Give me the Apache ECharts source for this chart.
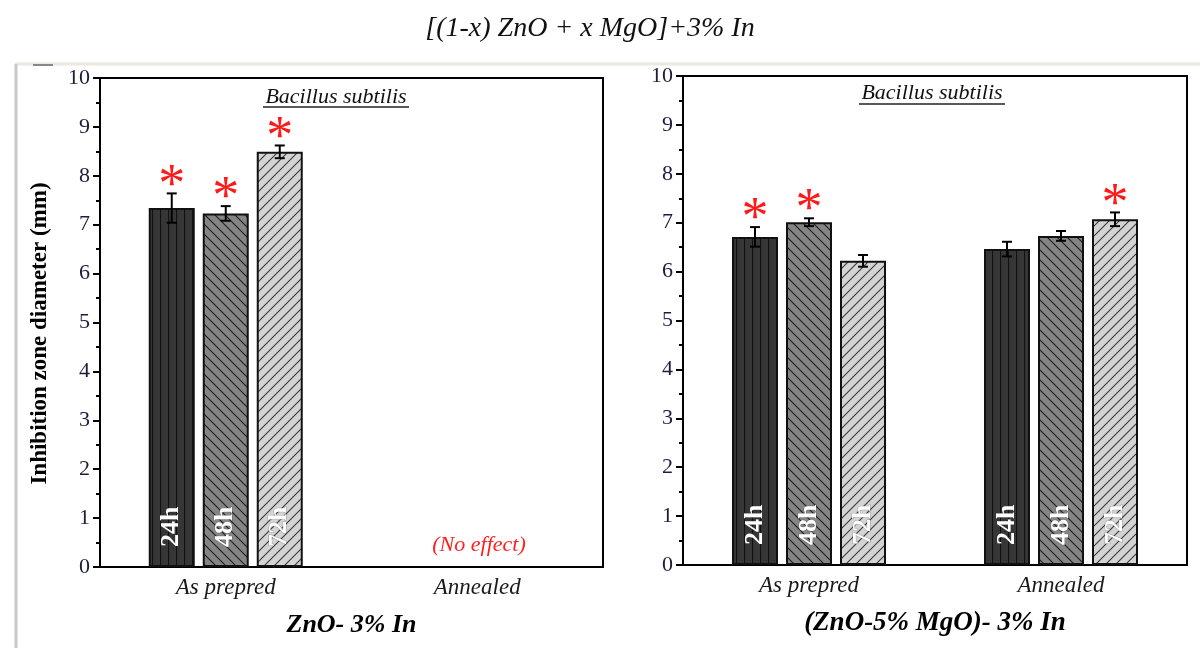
<!DOCTYPE html>
<html>
<head>
<meta charset="utf-8">
<title>Inhibition zone - Bacillus subtilis</title>
<script src="https://cdn.jsdelivr.net/npm/echarts@6/dist/echarts.min.js"></script>
<style>
  html, body { margin: 0; padding: 0; background: #ffffff; }
  #chart { width: 1200px; height: 648px; }
</style>
</head>
<body>
<div id="chart"></div>
<script>
// ---- data ----
const categories = ['As prepred', 'Annealed'];
const times = ['24h', '48h', '72h'];
const yTicks = [0, 10, 1];

// ZnO - 3% In (rows: 24h, 48h, 72h ; cols: as prepred, annealed)
const znoMeans = [[7.34, null], [7.23, null], [8.49, null]];
const znoErrors = [[0.3, null], [0.15, null], [0.13, null]];
const znoStars = [[1, 0], [1, 0], [1, 0]];

// (ZnO-5% MgO) - 3% In
const mgoMeans = [[6.71, 6.46], [7.01, 6.73], [6.22, 7.07]];
const mgoErrors = [[0.2, 0.15], [0.08, 0.1], [0.12, 0.14]];
const mgoStars = [[1, 0], [1, 0], [0, 1]];

// ---- style ----
const SERIF = '"Liberation Serif", "DejaVu Serif", serif';
const BAR_W = 46;
const BAR_GAP = 8;

function makePattern(bg, line, kind) {
  const s = kind === 'v' ? 8 : 10;
  const c = document.createElement('canvas');
  c.width = s;
  c.height = s;
  const ctx = c.getContext('2d');
  ctx.fillStyle = bg;
  ctx.fillRect(0, 0, s, s);
  ctx.strokeStyle = line;
  ctx.lineWidth = 1.1;
  ctx.beginPath();
  if (kind === 'v') {
    ctx.moveTo(0.5, 0);
    ctx.lineTo(0.5, s);
  } else if (kind === 'back') {
    ctx.moveTo(-2, -2); ctx.lineTo(s + 2, s + 2);
    ctx.moveTo(-2, s - 2); ctx.lineTo(2, s + 2);
    ctx.moveTo(s - 2, -2); ctx.lineTo(s + 2, 2);
  } else {
    ctx.moveTo(-2, s + 2); ctx.lineTo(s + 2, -2);
    ctx.moveTo(-2, 2); ctx.lineTo(2, -2);
    ctx.moveTo(s - 2, s + 2); ctx.lineTo(s + 2, s - 2);
  }
  ctx.stroke();
  return { image: c, repeat: 'repeat' };
}

const fills = [
  makePattern('#363636', '#111111', 'v'),
  makePattern('#858585', '#1e1e1e', 'back'),
  makePattern('#d4d4d4', '#3a3a3a', 'fwd')
];

function errRender(k) {
  return function (params, api) {
    const cat = api.value(0);
    const mean = api.value(1);
    const err = api.value(2);
    const star = api.value(3);
    const x = api.coord([cat, mean])[0] + (k - 1) * (BAR_W + BAR_GAP);
    const yTop = api.coord([cat, mean + err])[1];
    const yBot = api.coord([cat, mean - err])[1];
    const st = { stroke: '#000', lineWidth: 2 };
    const children = [
      { type: 'line', shape: { x1: x, y1: yTop, x2: x, y2: yBot }, style: st },
      { type: 'line', shape: { x1: x - 5, y1: yTop, x2: x + 5, y2: yTop }, style: st },
      { type: 'line', shape: { x1: x - 5, y1: yBot, x2: x + 5, y2: yBot }, style: st }
    ];
    if (star) {
      children.push({
        type: 'text',
        style: {
          text: '*', x: x, y: yTop - 7, fill: '#ff1a1a',
          font: '54px ' + SERIF, align: 'center', verticalAlign: 'middle'
        }
      });
    }
    return { type: 'group', children: children };
  };
}

function buildSeries(means, errors, stars, axisIdx) {
  const out = [];
  times.forEach(function (t, k) {
    out.push({
      name: t,
      type: 'bar',
      xAxisIndex: axisIdx,
      yAxisIndex: axisIdx,
      data: means[k],
      barWidth: BAR_W,
      barGap: (BAR_GAP / BAR_W * 100) + '%',
      itemStyle: { color: fills[k], borderColor: '#111', borderWidth: 2 },
      label: {
        show: true,
        position: 'insideBottom',
        rotate: 90,
        align: 'left',
        verticalAlign: 'middle',
        distance: 20,
        formatter: t,
        color: '#ffffff',
        fontFamily: SERIF,
        fontWeight: 'bold',
        fontSize: 26,
        textBorderColor: 'rgba(60,60,60,0.35)',
        textBorderWidth: 1
      },
      animation: false,
      z: 2
    });
    const ed = [];
    means[k].forEach(function (v, i) {
      if (v != null) ed.push([i, v, errors[k][i], stars[k][i]]);
    });
    out.push({
      type: 'custom',
      xAxisIndex: axisIdx,
      yAxisIndex: axisIdx,
      renderItem: errRender(k),
      data: ed,
      animation: false,
      z: 5
    });
  });
  return out;
}

function xAxisCfg(gridIndex, name, nameSize) {
  return {
    type: 'category',
    gridIndex: gridIndex,
    data: categories,
    axisLine: { lineStyle: { color: '#000', width: 2 } },
    axisTick: { alignWithLabel: true, length: 8, lineStyle: { color: '#000', width: 2 } },
    axisLabel: { fontFamily: SERIF, fontStyle: 'italic', fontSize: 23, color: '#1a1a1a', margin: 9 },
    name: name,
    nameLocation: 'middle',
    nameGap: 45,
    nameTextStyle: { fontFamily: SERIF, fontStyle: 'italic', fontWeight: 'bold', fontSize: nameSize, color: '#000' }
  };
}

function yAxisCfg(gridIndex, name) {
  return {
    type: 'value',
    gridIndex: gridIndex,
    min: yTicks[0],
    max: yTicks[1],
    interval: yTicks[2],
    axisLine: { show: true, lineStyle: { color: '#000', width: 2 } },
    axisTick: { show: true, length: 7, lineStyle: { color: '#000', width: 2 } },
    minorTick: { show: true, splitNumber: 2, length: 4, lineStyle: { color: '#000', width: 2 } },
    splitLine: { show: false },
    axisLabel: { fontFamily: SERIF, fontSize: 22, color: '#1c1c3c', margin: 10 },
    name: name,
    nameLocation: 'middle',
    nameGap: 48,
    nameTextStyle: { fontFamily: SERIF, fontWeight: 'bold', fontSize: 23, color: '#000', padding: [0, 22, 0, 0] }
  };
}

const chart = echarts.init(document.getElementById('chart'), null, { renderer: 'canvas' });

chart.setOption({
  backgroundColor: '#ffffff',
  animation: false,
  title: {
    text: '[(1-x) ZnO + x MgO]+3% In',
    left: 585,
    textAlign: 'center',
    top: 10,
    textStyle: { fontFamily: SERIF, fontStyle: 'italic', fontWeight: 'normal', fontSize: 28, color: '#111' }
  },
  grid: [
    { left: 100, top: 78, width: 503, height: 489, show: true, borderColor: '#000', borderWidth: 2, backgroundColor: 'transparent' },
    { left: 683, top: 76, width: 504, height: 489, show: true, borderColor: '#000', borderWidth: 2, backgroundColor: 'transparent' }
  ],
  xAxis: [xAxisCfg(0, 'ZnO- 3% In', 26), xAxisCfg(1, '(ZnO-5% MgO)- 3% In', 27)],
  yAxis: [yAxisCfg(0, 'Inhibition zone diameter (mm)'), yAxisCfg(1, '')],
  series: buildSeries(znoMeans, znoErrors, znoStars, 0)
    .concat(buildSeries(mgoMeans, mgoErrors, mgoStars, 1)),
  graphic: [
    // outer frame
    { type: 'line', shape: { x1: 15, y1: 64, x2: 1200, y2: 64 }, style: { stroke: '#ece8df', lineWidth: 3 }, silent: true },
    { type: 'line', shape: { x1: 16, y1: 64, x2: 16, y2: 648 }, style: { stroke: '#c8c8c8', lineWidth: 3 }, silent: true },
    { type: 'line', shape: { x1: 33, y1: 65, x2: 53, y2: 65 }, style: { stroke: '#888', lineWidth: 2 }, silent: true },
    // organism labels
    { type: 'text', x: 336, y: 97, style: { text: 'Bacillus subtilis', align: 'center', verticalAlign: 'middle', font: 'italic 22px ' + SERIF, fill: '#111' } },
    { type: 'line', shape: { x1: 263, y1: 107, x2: 409, y2: 107 }, style: { stroke: '#222', lineWidth: 1.5 } },
    { type: 'text', x: 932, y: 93, style: { text: 'Bacillus subtilis', align: 'center', verticalAlign: 'middle', font: 'italic 22px ' + SERIF, fill: '#111' } },
    { type: 'line', shape: { x1: 859, y1: 104, x2: 1005, y2: 104 }, style: { stroke: '#222', lineWidth: 1.5 } },
    // no effect note
    { type: 'text', x: 479, y: 545, style: { text: '(No effect)', align: 'center', verticalAlign: 'middle', font: 'italic 22px ' + SERIF, fill: '#ff2020' } }
  ]
});
</script>
</body>
</html>
